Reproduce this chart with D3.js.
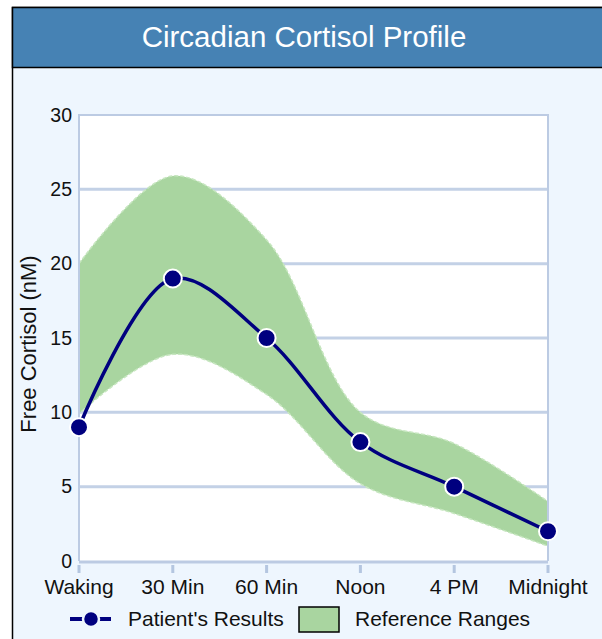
<!DOCTYPE html>
<html>
<head>
<meta charset="utf-8">
<script src="https://cdn.jsdelivr.net/npm/d3@7"></script>
<style>
  body { margin: 0; background: #fff; overflow: hidden; }
  svg { display: block; }
</style>
</head>
<body>
<script>
// chart data
var timepoints = ["Waking", "30 Min", "60 Min", "Noon", "4 PM", "Midnight"];
var patientValues = [9, 19, 15, 8, 5, 2];
var refUpper = [20, 25.9, 21.6, 10.0, 7.9, 4.0];
var refLower = [9.9, 13.9, 11.2, 5.2, 3.2, 1.0];
var yTicks = [0, 5, 10, 15, 20, 25, 30];

var width = 602, height = 639,
    margin = { left: 79, right: 54, top: 115, bottom: 78 };
var font = "'Liberation Sans', Arial, sans-serif";

var svg = d3.select("body").append("svg")
    .attr("width", width)
    .attr("height", height);

// frame + title band
svg.append("rect")
    .attr("x", 12.5).attr("y", 7.5)
    .attr("width", 620).attr("height", 650)
    .attr("fill", "#eef6fe")
    .attr("stroke", "#000").attr("stroke-width", 1.5);

svg.append("rect")
    .attr("x", 12.5).attr("y", 7.5)
    .attr("width", 620).attr("height", 60)
    .attr("fill", "#4682b4")
    .attr("stroke", "#000").attr("stroke-width", 1.5);

svg.append("text")
    .attr("x", 304).attr("y", 47)
    .attr("text-anchor", "middle")
    .attr("fill", "#fff")
    .style("font-family", font)
    .style("font-size", "29.5px")
    .text("Circadian Cortisol Profile");

var x = d3.scalePoint()
    .domain(timepoints)
    .range([margin.left, width - margin.right]);

var y = d3.scaleLinear()
    .domain([0, 30])
    .range([height - margin.bottom, margin.top]);

var g = svg.append("g");

// plot background
g.append("rect")
    .attr("x", x.range()[0]).attr("y", y(30))
    .attr("width", x.range()[1] - x.range()[0])
    .attr("height", y(0) - y(30))
    .attr("fill", "#fff");

// gridlines
g.selectAll(".grid")
    .data(yTicks.filter(function (d) { return d > 0 && d < 30; }))
    .enter().append("line")
    .attr("x1", x.range()[0]).attr("x2", x.range()[1])
    .attr("y1", function (d) { return y(d); })
    .attr("y2", function (d) { return y(d); })
    .attr("stroke", "#c3d1e6")
    .attr("stroke-width", 3);

// reference band
var area = d3.area()
    .x(function (d, i) { return x(timepoints[i]); })
    .y0(function (d, i) { return y(refLower[i]); })
    .y1(function (d, i) { return y(refUpper[i]); })
    .curve(d3.curveCatmullRom.alpha(0.5));

g.append("path")
    .datum(refUpper)
    .attr("d", area)
    .attr("fill", "#a9d5a0")
    .attr("stroke", "#c6e6bf")
    .attr("stroke-width", 1.5)
    .attr("stroke-dasharray", "4,2");

// plot frame (left, top, right, bottom)
var x0 = x.range()[0], x1 = x.range()[1];
g.append("path")
    .attr("d", "M" + x0 + "," + y(0) + "V" + y(30) + "H" + x1 + "V" + y(0))
    .attr("fill", "none")
    .attr("stroke", "#bccbe3")
    .attr("stroke-width", 2);
g.append("line")
    .attr("x1", x0).attr("x2", x1)
    .attr("y1", y(0) + 1).attr("y2", y(0) + 1)
    .attr("stroke", "#bccbe3").attr("stroke-width", 3);

// x ticks
g.selectAll(".xtick")
    .data(timepoints)
    .enter().append("rect")
    .attr("x", function (d) { return x(d) - 1.5; })
    .attr("y", y(0) + 4)
    .attr("width", 3).attr("height", 8)
    .attr("fill", "#b4c6e0");

g.selectAll(".xlabel")
    .data(timepoints)
    .enter().append("text")
    .attr("x", function (d) { return x(d); })
    .attr("y", y(0) + 33)
    .attr("text-anchor", "middle")
    .style("font-family", font)
    .style("font-size", "21px")
    .attr("fill", "#111")
    .text(function (d) { return d; });

// y labels
g.selectAll(".ylabel")
    .data(yTicks)
    .enter().append("text")
    .attr("x", x0 - 7)
    .attr("y", function (d) { return y(d) + 6.5; })
    .attr("text-anchor", "end")
    .style("font-family", font)
    .style("font-size", "19.5px")
    .attr("fill", "#111")
    .text(function (d) { return d; });

svg.append("text")
    .attr("transform", "translate(36," + 344 + ") rotate(-90)")
    .attr("text-anchor", "middle")
    .style("font-family", font)
    .style("font-size", "22px")
    .attr("fill", "#111")
    .text("Free Cortisol (nM)");

// patient line
var line = d3.line()
    .x(function (d, i) { return x(timepoints[i]); })
    .y(function (d) { return y(d); })
    .curve(d3.curveCatmullRom.alpha(0.5));

g.append("path")
    .datum(patientValues)
    .attr("d", line)
    .attr("fill", "none")
    .attr("stroke", "#00007f")
    .attr("stroke-width", 3.5);

g.selectAll(".pt")
    .data(patientValues)
    .enter().append("circle")
    .attr("cx", function (d, i) { return x(timepoints[i]); })
    .attr("cy", function (d) { return y(d); })
    .attr("r", 9)
    .attr("fill", "#00007f")
    .attr("stroke", "#fff")
    .attr("stroke-width", 2);

// legend
var lg = svg.append("g").attr("transform", "translate(0,619)");
lg.append("line")
    .attr("x1", 70).attr("x2", 111)
    .attr("y1", 0).attr("y2", 0)
    .attr("stroke", "#00007f").attr("stroke-width", 4);
lg.append("circle")
    .attr("cx", 91).attr("cy", 0).attr("r", 8)
    .attr("fill", "#00007f")
    .attr("stroke", "#eef6fe").attr("stroke-width", 2.5);
lg.append("text")
    .attr("x", 128).attr("y", 7)
    .style("font-family", font)
    .style("font-size", "21px")
    .attr("fill", "#111")
    .text("Patient's Results");
lg.append("rect")
    .attr("x", 299).attr("y", -12)
    .attr("width", 40).attr("height", 25)
    .attr("fill", "#a9d5a0")
    .attr("stroke", "#000").attr("stroke-width", 1.5);
lg.append("text")
    .attr("x", 355).attr("y", 7)
    .style("font-family", font)
    .style("font-size", "21px")
    .attr("fill", "#111")
    .text("Reference Ranges");
</script>
</body>
</html>
